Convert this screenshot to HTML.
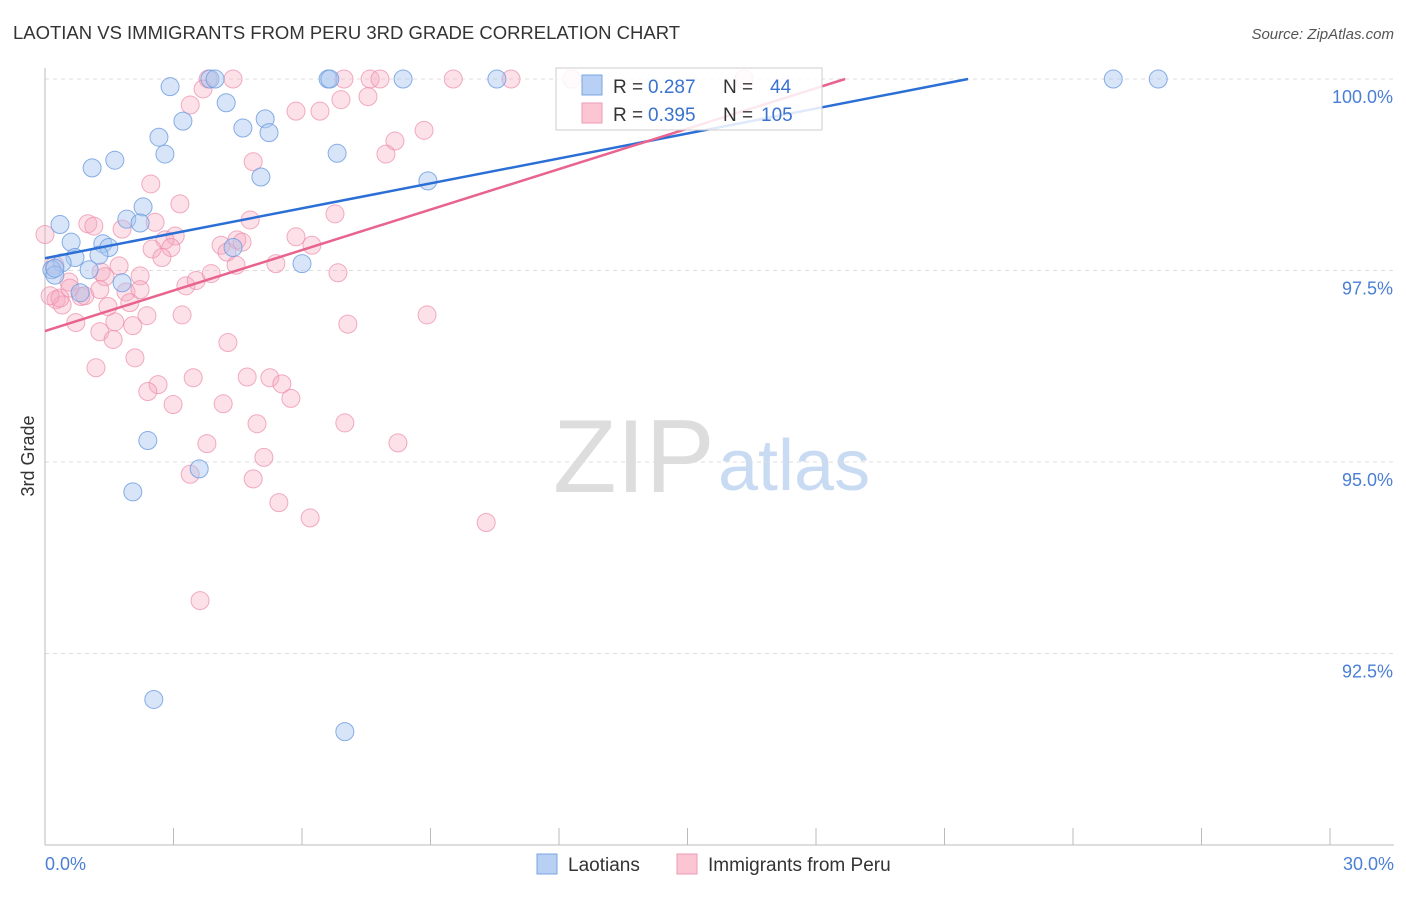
<!DOCTYPE html>
<html><head><meta charset="utf-8"><style>
body{margin:0;background:#fff;font-family:"Liberation Sans",sans-serif;}
svg text{font-family:"Liberation Sans",sans-serif;}
</style></head><body>
<svg id="chart" width="1406" height="892" viewBox="0 0 1406 892" xmlns="http://www.w3.org/2000/svg">
<text x="13" y="39" font-size="18" fill="#333" textLength="667" lengthAdjust="spacingAndGlyphs">LAOTIAN VS IMMIGRANTS FROM PERU 3RD GRADE CORRELATION CHART</text>
<text x="1394" y="39" font-size="15" fill="#555" text-anchor="end" font-style="italic">Source: ZipAtlas.com</text>
<g>
<text x="553" y="492" font-size="104" fill="#ddd" font-family="Liberation Serif, serif">ZIP</text>
<text x="718" y="490" font-size="72" fill="#c9dbf2">atlas</text>
</g>
<g id="grid"></g>
<g id="axes"></g>
<g id="points"></g>
<g id="trends"></g>
<text transform="translate(34,456) rotate(-90)" font-size="18" fill="#333" text-anchor="middle">3rd Grade</text>
<g>
<rect x="556" y="68" width="266" height="62" fill="#fff" fill-opacity="0.85" stroke="#ccc"/>
<rect x="582" y="75" width="20" height="20" fill="#b7d0f3" stroke="#7aa5e3"/>
<rect x="582" y="103" width="20" height="20" fill="#fbc5d4" stroke="#ee9ab3"/>
<text x="613" y="93" font-size="19" fill="#333">R =</text>
<text x="648" y="93" font-size="19" fill="#3a72d0">0.287</text>
<text x="723" y="93" font-size="19" fill="#333">N =</text>
<text x="770" y="93" font-size="19" fill="#3a72d0">44</text>
<text x="613" y="121" font-size="19" fill="#333">R =</text>
<text x="648" y="121" font-size="19" fill="#3a72d0">0.395</text>
<text x="723" y="121" font-size="19" fill="#333">N =</text>
<text x="761" y="121" font-size="19" fill="#3a72d0">105</text>
</g>
<g>
<rect x="537" y="854" width="20" height="20" fill="#b7d0f3" stroke="#7aa5e3"/>
<text x="568" y="871" font-size="19" fill="#333">Laotians</text>
<rect x="677" y="854" width="20" height="20" fill="#fbc5d4" stroke="#ee9ab3"/>
<text x="708" y="871" font-size="19" fill="#333">Immigrants from Peru</text>
</g>
</svg>
<script>
const yTicks=[100,97.5,95,92.5];
const yTickLabels=["100.0%","97.5%","95.0%","92.5%"];
const xTicks=[0,3,6,9,12,15,18,21,24,27,30];
const blueX=[3.85,3.97,6.61,6.65,8.36,10.55,24.94,25.99,2.92,4.23,3.22,5.14,2.66,4.62,5.23,2.80,1.63,1.10,6.82,5.04,8.94,2.29,1.91,2.22,0.35,0.61,1.35,1.49,1.26,0.70,0.40,0.16,0.23,1.03,6.00,4.39,1.80,0.82,2.40,3.60,2.05,2.54,7.00,0.23];
const blueY=[100,100,100,100,100,100,100,100,99.90,99.69,99.45,99.48,99.24,99.36,99.30,99.02,98.94,98.84,99.03,98.72,98.67,98.33,98.17,98.12,98.10,97.87,97.85,97.80,97.70,97.67,97.60,97.51,97.44,97.51,97.59,97.80,97.34,97.21,95.28,94.91,94.61,91.90,91.48,97.53];
const pinkX=[3.81,4.39,6.98,7.59,7.82,9.53,10.88,12.30,16.32,3.69,7.54,6.91,3.39,5.86,6.42,8.85,8.17,7.96,4.86,2.47,3.15,6.77,4.79,1.00,1.14,1.80,2.57,3.04,2.80,5.86,4.11,4.48,4.60,6.23,2.50,2.94,4.25,2.73,1.73,4.46,5.39,6.84,3.88,2.22,1.31,1.40,0.56,3.29,3.53,1.89,0.26,0.40,0.84,1.47,1.98,2.38,1.63,2.05,0.72,1.28,3.20,7.07,8.92,1.59,4.27,2.10,1.19,2.64,2.40,3.46,4.72,5.25,5.53,5.74,2.99,4.16,4.95,7.00,3.78,8.24,5.11,3.39,4.86,5.46,6.19,10.30,3.62,0,0.12,0.35,0.58,0.93,0.23,1.28,2.22];
const pinkY=[100,100,100,100,100,100,100,100,100,99.87,99.77,99.73,99.66,99.58,99.58,99.33,99.19,99.02,98.92,98.63,98.37,98.24,98.16,98.11,98.08,98.04,98.13,97.95,97.90,97.94,97.83,97.90,97.87,97.83,97.78,97.80,97.74,97.67,97.56,97.57,97.59,97.47,97.46,97.43,97.48,97.42,97.35,97.30,97.37,97.22,97.12,97.05,97.16,97.03,97.08,96.91,96.83,96.78,96.82,96.70,96.92,96.80,96.92,96.60,96.56,96.36,96.23,96.01,95.92,96.10,96.11,96.10,96.02,95.83,95.75,95.76,95.50,95.51,95.24,95.25,95.06,94.84,94.78,94.47,94.27,94.21,93.19,97.97,97.17,97.14,97.27,97.17,97.57,97.25,97.25];
const blueTrend=[0,97.66,21.55,100];
const pinkTrend=[0,96.71,18.68,100];

const NS="http://www.w3.org/2000/svg";
const X0=45,X1=1330,Y0=845,Y100=79;
const sx=v=>X0+(v/30)*(X1-X0);
const sy=v=>Y0-(v-90)/10*(Y0-Y100);
function mk(tag,attrs,parent){const e=document.createElementNS(NS,tag);for(const k in attrs)e.setAttribute(k,attrs[k]);parent.appendChild(e);return e;}
const grid=document.getElementById('grid'),axes=document.getElementById('axes'),pts=document.getElementById('points'),tr=document.getElementById('trends');
yTicks.forEach((t,i)=>{
 const l=mk('line',{x1:X0,x2:1394,y1:sy(t),y2:sy(t),stroke:'#ddd','stroke-dasharray':'4,4'},grid);
 
 
 const tx=mk('text',{x:1393,y:sy(t)+24,'font-size':18,fill:'#4a7fd4','text-anchor':'end'},axes);
 tx.textContent=yTickLabels[i];
 
 
});
const ax=mk('line',{x1:X0,x2:1394,y1:Y0,y2:Y0,stroke:'#bbb'},axes);


const ay=mk('line',{x1:X0,x2:X0,y1:68,y2:Y0,stroke:'#bbb'},axes);


xTicks.forEach(t=>{
 const l=mk('line',{x1:sx(t),x2:sx(t),y1:828,y2:Y0,stroke:'#bbb'},axes);
 
 
});
const xl0=mk('text',{x:45,y:870,'font-size':18,fill:'#4a7fd4'},axes);xl0.textContent='0.0%';


const xl1=mk('text',{x:1394,y:870,'font-size':18,fill:'#4a7fd4','text-anchor':'end'},axes);xl1.textContent='30.0%';


pinkX.forEach((v,i)=>{
 const c=mk('circle',{cx:sx(v),cy:sy(pinkY[i]),r:9,fill:'#f7a8c0','fill-opacity':0.35,stroke:'#ec8aaa','stroke-opacity':0.7},pts);
 
 
});
blueX.forEach((v,i)=>{
 const c=mk('circle',{cx:sx(v),cy:sy(blueY[i]),r:9,fill:'#a9c6ef','fill-opacity':0.45,stroke:'#6c9be0','stroke-opacity':0.8},pts);
 
 
});
const bt=mk('line',{x1:sx(blueTrend[0]),y1:sy(blueTrend[1]),x2:sx(blueTrend[2]),y2:sy(blueTrend[3]),stroke:'#2b6fd6','stroke-width':2.5},tr);


const pt=mk('line',{x1:sx(pinkTrend[0]),y1:sy(pinkTrend[1]),x2:sx(pinkTrend[2]),y2:sy(pinkTrend[3]),stroke:'#e8648e','stroke-width':2.5},tr);


</script>
</body></html>
